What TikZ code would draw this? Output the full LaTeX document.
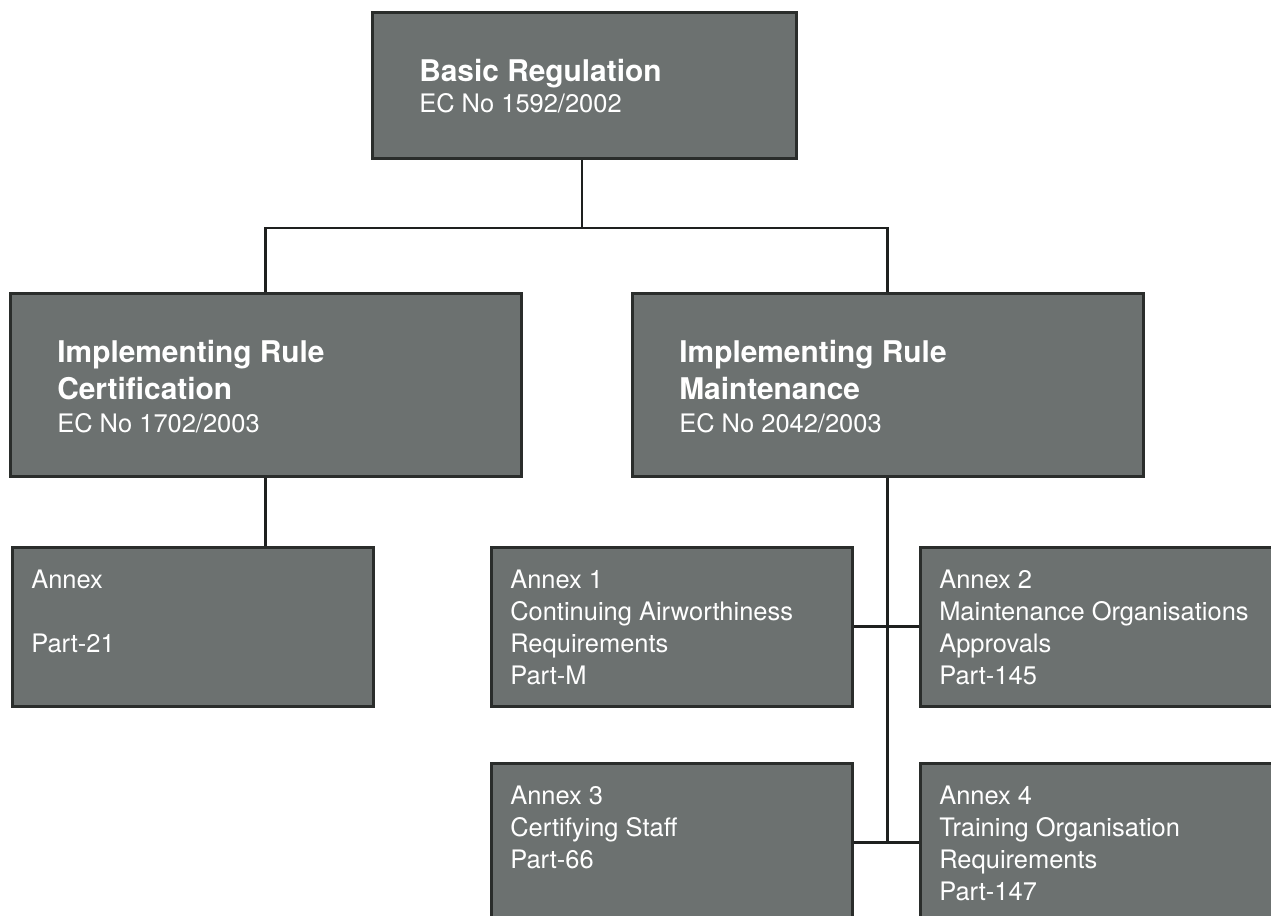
\documentclass[tikz,border=0pt]{standalone}
\usepackage{fontspec}
\setmainfont{TeX Gyre Heros}
\usetikzlibrary{fit}
\definecolor{boxfill}{HTML}{6C7170}
\definecolor{boxline}{HTML}{2A2D2B}
\definecolor{conn}{HTML}{1E201F}
\tikzset{
  box/.style={draw=boxline, fill=boxfill, line width=2.25pt, inner sep=0pt, rectangle},
  connline/.style={draw=conn, line width=1.7pt},
  hd/.style={anchor=base west, inner sep=0pt, text=white, font=\fontsize{22.4pt}{25pt}\selectfont\bfseries},
  tx/.style={anchor=base west, inner sep=0pt, text=white, font=\fontsize{19.1pt}{22pt}\selectfont}
}
\begin{document}
\begin{tikzpicture}[x=0.75pt, y=-0.75pt]
\useasboundingbox (0,0) rectangle (1271,915);
\clip (0,0) rectangle (1271,915);
% boxes
\node[box, fit={(372,12) (796,158)}] (top) {};
\node[box, fit={(10,293) (521,476)}] (irc) {};
\node[box, fit={(632,293) (1143,476)}] (irm) {};
\node[box, fit={(12,547) (373,706)}] (anx) {};
\node[box, fit={(491,547) (852,706)}] (a1) {};
\node[box, fit={(920,547) (1281,706)}] (a2) {};
\node[box, fit={(491,763) (852,922)}] (a3) {};
\node[box, fit={(920,763) (1281,922)}] (a4) {};
% texts
\node[hd] (t1) at (419,81) {Basic Regulation};
\node[tx] (t2) at (419,112) {EC No 1592/2002};
\node[hd] (c1) at (57,362) {Implementing Rule};
\node[hd] (c2) at (57,399) {Certification};
\node[tx] (c3) at (57,432) {EC No 1702/2003};
\node[hd] (m1) at (679,362) {Implementing Rule};
\node[hd] (m2) at (679,399) {Maintenance};
\node[tx] (m3) at (679,432) {EC No 2042/2003};
\node[tx] (x1) at (31,588) {Annex};
\node[tx] (x2) at (31,652) {Part-21};
\node[tx] (p1) at (510,588) {Annex 1};
\node[tx] (p2) at (510,620) {Continuing Airworthiness};
\node[tx] (p3) at (510,652) {Requirements};
\node[tx] (p4) at (510,684) {Part-M};
\node[tx] (q1) at (939,588) {Annex 2};
\node[tx] (q2) at (939,620) {Maintenance Organisations};
\node[tx] (q3) at (939,652) {Approvals};
\node[tx] (q4) at (939,684) {Part-145};
\node[tx] (r1) at (510,804) {Annex 3};
\node[tx] (r2) at (510,836) {Certifying Staff};
\node[tx] (r3) at (510,868) {Part-66};
\node[tx] (s1) at (939,804) {Annex 4};
\node[tx] (s2) at (939,836) {Training Organisation};
\node[tx] (s3) at (939,868) {Requirements};
\node[tx] (s4) at (939,900) {Part-147};
% connectors
\coordinate (hb) at (582,228);
\draw[connline] (top.south -| hb) -- (hb);
\draw[connline] (irc.north) |- (hb) -| (irm.north);
\draw[connline] (irc.south) -- (irc.south |- anx.north);
\draw[connline] (irm.south) -- (irm.south |- a3.east);
\draw[connline] (a1.east) -- (a2.west);
\draw[connline] (a3.east) -- (a4.west);
\end{tikzpicture}
\end{document}
